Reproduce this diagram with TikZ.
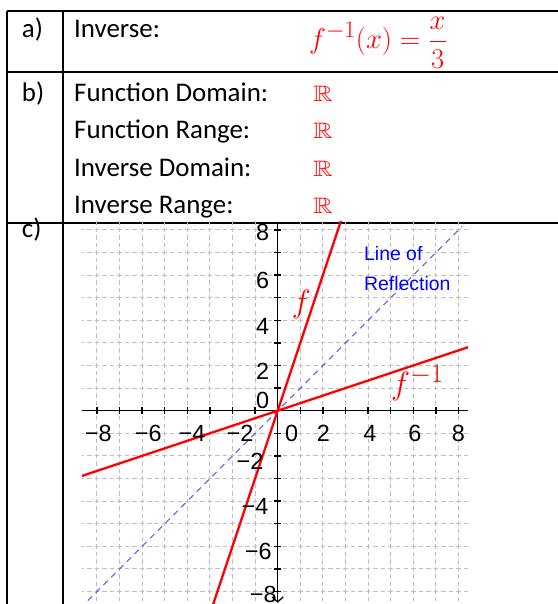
\documentclass[tikz,border=0pt]{standalone}
\usepackage{amssymb}
\usepackage{fontspec}
\setmainfont{Carlito}
\newfontfamily\arialfont{Liberation Sans}
\usetikzlibrary{arrows.meta}
\definecolor{gridgray}{RGB}{190,190,190}
\definecolor{plotred}{RGB}{255,0,0}
\definecolor{refblue}{RGB}{70,70,255}
\definecolor{textblue}{RGB}{0,0,255}
\begin{document}
\begin{tikzpicture}[x=1bp,y=-1bp,
  rule/.style={line width=1.8bp, black},
  lbl/.style={anchor=base west, inner sep=0pt, font=\fontsize{27}{30}\selectfont},
  realset/.style={anchor=base west, inner sep=0pt, text=plotred, font=\fontsize{20.74}{24}\selectfont},
  gridline/.style={gridgray, line width=1bp, dash pattern=on 4.5bp off 3.033bp, dash phase=2.25bp},
  axisline/.style={black, line width=1.3bp},
  redline/.style={plotred, line width=2.3bp},
  blueline/.style={refblue, line width=0.9bp, dash pattern=on 6bp off 5bp},
  ticklbl/.style={inner sep=0pt, font=\arialfont\fontsize{23.5}{26}\selectfont},
  reflbl/.style={inner sep=0pt, text=textblue, font=\arialfont\fontsize{19.5}{21}\selectfont},
  fnlbl/.style={inner sep=0pt, text=plotred, font=\fontsize{24.88}{28}\selectfont}]
\useasboundingbox (0,0) rectangle (558,604);
% table rules
\draw[rule] (7,11) -- (558,11);
\draw[rule] (7,71.7) -- (558,71.7);
\draw[rule] (7,222.7) -- (558,222.7);
\draw[rule] (7,11) -- (7,604);
\draw[rule] (63,11) -- (63,604);
% row a
\node[lbl] (la) at (21.7,38) {a)};
\node[lbl] (inv) at (74,38) {Inverse:};
\node[anchor=base west, inner sep=0pt, text=plotred, font=\fontsize{24.88}{28}\selectfont] (formula) at (309,49) {\scalebox{1.15}{$\displaystyle f^{-1}(x)=\frac{x}{3}$}};
% row b
\node[lbl] (lb) at (21.7,101.7) {b)};
\node[lbl] (fd) at (74,101.7) {Function Domain:};
\node[lbl] (fr) at (74,138.3) {Function Range:};
\node[lbl] (id) at (74,176.7) {Inverse Domain:};
\node[lbl] (ir) at (74,213.3) {Inverse Range:};
\node[realset] (r1) at (313,101.7) {\scalebox{1.3}[1.08]{$\mathbb{R}$}};
\node[realset] (r2) at (313,138.3) {\scalebox{1.3}[1.08]{$\mathbb{R}$}};
\node[realset] (r3) at (313,176.7) {\scalebox{1.3}[1.08]{$\mathbb{R}$}};
\node[realset] (r4) at (313,213.3) {\scalebox{1.3}[1.08]{$\mathbb{R}$}};
% row c
\node[lbl] (lc) at (21.7,237) {c)};
% graph
\fill[white] (82,223.8) rectangle (468,604);
\begin{scope}[shift={(277.7,410.7)}, x=22.6bp, y=22.6bp]
  \clip (-8.66,-8.55) rectangle (8.42,8.35);
  \foreach \i in {-8,...,8} {
    \draw[gridline] (\i,-9) -- (\i,9);
    \draw[gridline] (-9,\i) -- (9,\i);
  }
  \draw[axisline] (-8.66,0) -- (8.42,0);
  \draw[axisline, -{Straight Barb[length=5bp,width=11bp]}] (0,8.35) -- (0,-8.5);
  \foreach \i in {-8,...,8} {
    \draw[axisline] (\i,0) ++(0,3.3bp) -- ++(0,-6.6bp);
    \draw[axisline] (0,\i) ++(-3.3bp,0) -- ++(6.6bp,0);
  }
  \draw[blueline] (-8.4,-8.4) -- (8.15,8.15);
  \draw[redline] (-3,-9) -- (3,9);
  \draw[redline] (-9,-3) -- (9,3);
\end{scope}
% tick labels
\node[ticklbl] (x1) at (98.3,433.3) {−8};
\node[ticklbl] (x2) at (148.3,433.3) {−6};
\node[ticklbl] (x3) at (192,433.3) {−4};
\node[ticklbl] (x4) at (240,433.3) {−2};
\node[ticklbl] (x5) at (291.7,433.3) {0};
\node[ticklbl] (x6) at (323.3,433.3) {2};
\node[ticklbl] (x7) at (370,433.3) {4};
\node[ticklbl] (x8) at (415,433.3) {6};
\node[ticklbl] (x9) at (458.3,433.3) {8};
\node[ticklbl] (y1) at (262.7,232.7) {8};
\node[ticklbl] (y2) at (262.7,280) {6};
\node[ticklbl] (y3) at (262.7,326.7) {4};
\node[ticklbl] (y4) at (262.7,371.7) {2};
\node[ticklbl] (y5) at (262.7,400) {0};
\node[ticklbl] (y6) at (250,461.7) {−2};
\node[ticklbl] (y7) at (255,506.7) {−4};
\node[ticklbl] (y8) at (258.3,551.7) {−6};
\node[ticklbl] (y9) at (263.3,594.5) {−8};
% curve labels
\node[reflbl] (lo) at (393.3,253.3) {Line of};
\node[reflbl] (rf) at (407.3,283.3) {Reflection};
\node[fnlbl] (fl) at (301.3,304.7) {\scalebox{1.3}{$f$}};
\node[fnlbl] (fil) at (417.5,383) {\scalebox{1.3}{$f^{-1}$}};
\end{tikzpicture}
\end{document}
